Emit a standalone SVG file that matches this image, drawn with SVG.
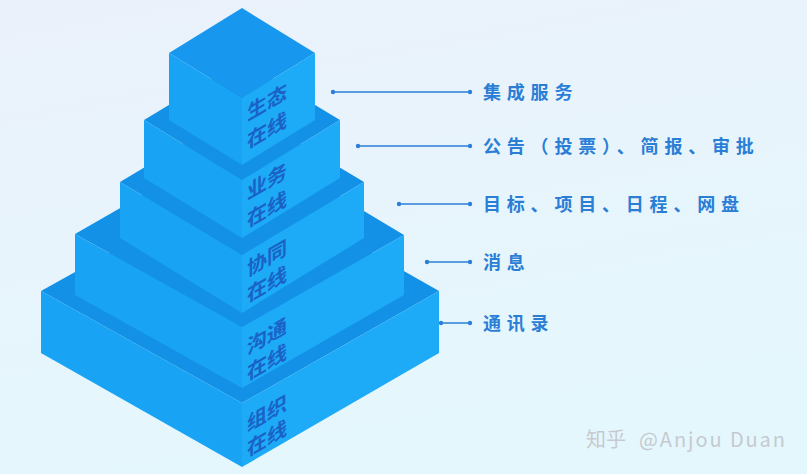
<svg xmlns="http://www.w3.org/2000/svg" width="807" height="474" viewBox="0 0 807 474">
  <defs>
    <linearGradient id="bg" x1="0" y1="0" x2="0.3" y2="1">
      <stop offset="0" stop-color="#ebf1fb"/>
      <stop offset="1" stop-color="#e4f7fd"/>
    </linearGradient>
    <style>
      .top { fill: #1797ee; }
      .ring { fill: #1291e7; }
      .left { fill: #18a3f4; }
      .right { fill: #1daaf7; }
      .tl { font-family: "Noto Sans CJK SC", "Noto Sans", sans-serif; font-size: 20px; font-weight: bold; fill: #1a62c6; }
      .cl { stroke: #2b7fd6; stroke-width: 1.5; fill: none; }
      .dot { fill: #2b7fd6; }
      .lab { font-family: "Noto Sans CJK SC", "Noto Sans", sans-serif; font-size: 18px; font-weight: bold; fill: #2a7ed6; letter-spacing: 5.8px; }
      .wm { font-family: "Noto Sans CJK SC", "Liberation Sans", sans-serif; font-size: 20px; fill: #c6cacf; }
    </style>
  </defs>
  <rect x="0" y="0" width="807" height="474" fill="url(#bg)"/>

  <g id="tier-5">
    <polygon class="ring" points="41,291 242,179 439,291 242,403"/>
    <polygon class="left" points="41,291 242,403 242,467 41,353"/>
    <polygon class="right" points="242,403 439,291 439,353 242,467"/>
    <text class="tl" transform="translate(247,432) skewY(-30)"><tspan x="0" y="0">组织</tspan><tspan x="0" y="25">在线</tspan></text>
  </g>
  <g id="tier-4">
    <polygon class="ring" points="75,234 242,138 404,235 242,327"/>
    <polygon class="left" points="75,234 242,327 242,388 75,295"/>
    <polygon class="right" points="242,327 404,235 404,295 242,388"/>
    <text class="tl" transform="translate(247,355) skewY(-30)"><tspan x="0" y="0">沟通</tspan><tspan x="0" y="26">在线</tspan></text>
  </g>
  <g id="tier-3">
    <polygon class="ring" points="120,182 242,109 364,182 242,255"/>
    <polygon class="left" points="120,182 242,255 242,313 120,238"/>
    <polygon class="right" points="242,255 364,182 364,238 242,313"/>
    <text class="tl" transform="translate(247,277) skewY(-30)"><tspan x="0" y="0">协同</tspan><tspan x="0" y="26">在线</tspan></text>
  </g>
  <g id="tier-2">
    <polygon class="ring" points="144,120 242,61 340,120 242,180"/>
    <polygon class="left" points="144,120 242,180 242,238 144,178"/>
    <polygon class="right" points="242,180 340,120 340,178 242,238"/>
    <text class="tl" transform="translate(247,200) skewY(-30)"><tspan x="0" y="0">业务</tspan><tspan x="0" y="28">在线</tspan></text>
  </g>
  <g id="tier-1">
    <polygon class="top" points="169,53 242,8 315,53 242,98"/>
    <polygon class="left" points="169,53 242,98 242,165 169,120"/>
    <polygon class="right" points="242,98 315,53 315,120 242,165"/>
    <text class="tl" transform="translate(247,121) skewY(-30)"><tspan x="0" y="0">生态</tspan><tspan x="0" y="28">在线</tspan></text>
  </g>

  <g id="connectors">
    <line class="cl" x1="333" y1="92" x2="470" y2="92"/>
    <circle class="dot" cx="333" cy="92" r="2.2"/><circle class="dot" cx="470" cy="92" r="2.2"/>
    <line class="cl" x1="358" y1="146" x2="470" y2="146"/>
    <circle class="dot" cx="358" cy="146" r="2.2"/><circle class="dot" cx="470" cy="146" r="2.2"/>
    <line class="cl" x1="399" y1="204" x2="470" y2="204"/>
    <circle class="dot" cx="399" cy="204" r="2.2"/><circle class="dot" cx="470" cy="204" r="2.2"/>
    <line class="cl" x1="427" y1="262" x2="470" y2="262"/>
    <circle class="dot" cx="427" cy="262" r="2.2"/><circle class="dot" cx="470" cy="262" r="2.2"/>
    <line class="cl" x1="441" y1="323" x2="470" y2="323"/>
    <circle class="dot" cx="441" cy="323" r="2.2"/><circle class="dot" cx="470" cy="323" r="2.2"/>
  </g>

  <g id="label-1"><text class="lab" x="483" y="99">集成服务</text></g>
  <g id="label-2"><text class="lab" x="483" y="153">公告（投票）、简报、审批</text></g>
  <g id="label-3"><text class="lab" x="483" y="211">目标、项目、日程、网盘</text></g>
  <g id="label-4"><text class="lab" x="483" y="269">消息</text></g>
  <g id="label-5"><text class="lab" x="483" y="330">通讯录</text></g>

  <g id="watermark">
    <text class="wm" x="586" y="447">知乎</text>
    <text class="wm" x="639" y="447" textLength="146" font-family="Liberation Sans, sans-serif">@Anjou Duan</text>
  </g>
</svg>
